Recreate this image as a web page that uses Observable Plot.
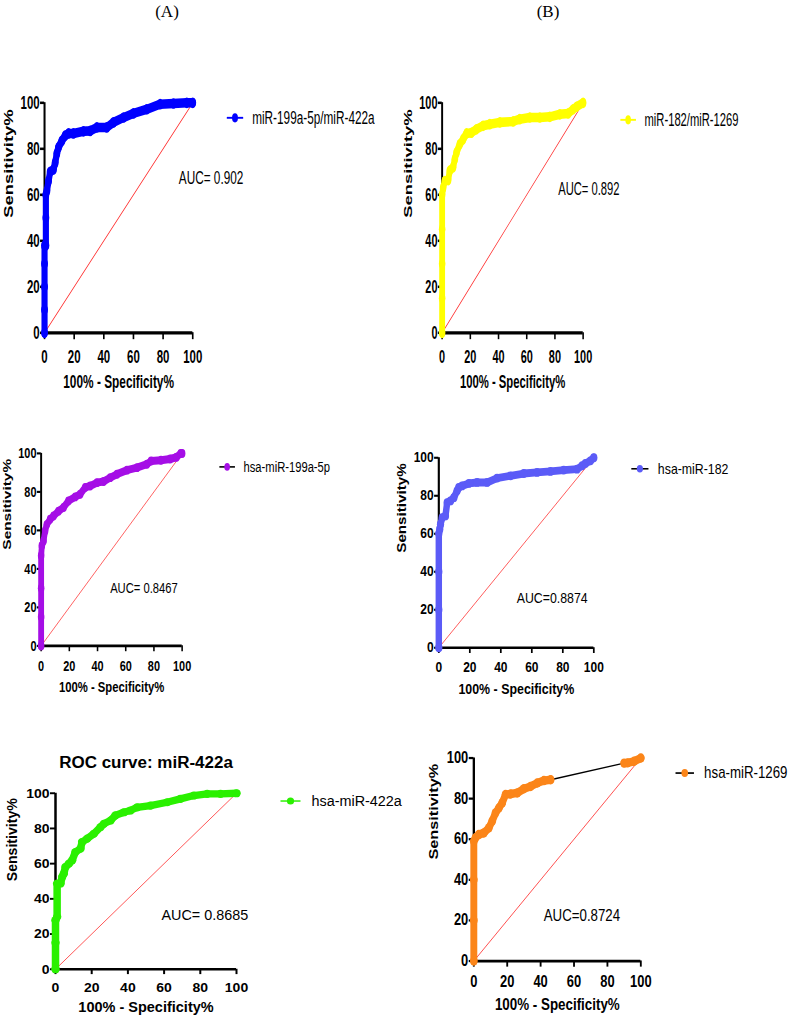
<!DOCTYPE html>
<html>
<head>
<meta charset="utf-8">
<script src="https://cdn.jsdelivr.net/npm/d3@7"></script>
<script src="https://cdn.jsdelivr.net/npm/@observablehq/plot@0.6"></script>
<style>
  html, body { margin: 0; padding: 0; background: #fff; }
  body { width: 789px; height: 1018px; position: relative; overflow: hidden; }
  .panel { position: absolute; transform-origin: 0 0; }
  .panel svg { display: block; overflow: visible; max-width: none !important; }
  .hdr { position: absolute; font-family: "Liberation Serif", "Times New Roman", serif; font-size: 17px; transform: translate(-50%, -50%); color: #000; }
</style>
</head>
<body>
<div class="hdr" style="left:167px; top:12px;">(A)</div>
<div class="hdr" style="left:548px; top:12px;">(B)</div>
<script>
// ---- data ----
const xTicks = [0, 20, 40, 60, 80, 100];
const yTicks = [0, 20, 40, 60, 80, 100];
const diag = [0, 100];
const xTitle = "100% - Specificity%";
const yTitle = "Sensitivity%";

// miR-199a-5p/miR-422a
const a1Fpr = [0, 0, 0, 0, 0, 0.9, 0.9, 0.9, 1.6, 2.7, 3.8, 6, 7.2, 8.3, 9.4, 11.7, 13.9, 16.2, 19.5, 26.3, 30.8, 35.3, 42, 46.5, 53.3, 60, 69, 78, 87, 96, 100];
const a1Tpr = [0, 10, 20, 30, 38, 38, 50, 60, 61.8, 66, 70, 71, 74, 78, 80.6, 83.5, 85.7, 86.7, 86.7, 87.6, 87.8, 89.3, 89.3, 91.5, 93.6, 95.4, 97.2, 99.4, 99.7, 100, 100];

// miR-182/miR-1269
const b1Fpr = [0, 0, 0, 0, 0, 0.7, 1.9, 4.3, 5.4, 7.8, 9, 10.2, 12.5, 14.9, 17.3, 20.8, 24.3, 29, 33.8, 40.9, 50.4, 55, 62.2, 69.3, 76.4, 83.5, 89.4, 92.9, 95.3, 100];
const b1Tpr = [0, 15, 30, 45, 60, 63, 66, 66.4, 70.5, 72, 75.5, 78.4, 82, 84.2, 86.7, 87, 88.5, 90, 90.7, 91.5, 91.9, 92.9, 93.6, 93.6, 93.9, 95, 95.4, 97.2, 98.3, 100];

// hsa-miR-199a-5p
const a2Fpr = [0, 0, 0, 0, 0.5, 1.7, 2.8, 4, 6.4, 8.8, 12.3, 15.9, 19.4, 24.2, 27.7, 31.3, 34.8, 39.6, 44.3, 49, 53.8, 60.9, 68, 75, 78, 85, 91.5, 96, 99, 100];
const a2Tpr = [0, 15, 30, 46.8, 52, 54.5, 59.7, 63, 65.8, 67.5, 70, 71.9, 75.3, 77.4, 78.8, 82.3, 83.1, 84.8, 85.4, 87.4, 89.2, 91.3, 92.6, 94.4, 96, 96.4, 97.1, 98, 100, 100];

// hsa-miR-182
const b2Fpr = [0, 0, 0, 0, 0.6, 1.1, 2.2, 4.3, 5.4, 7.5, 9.7, 11.8, 12.9, 15, 19.4, 24.7, 31.2, 37.6, 46.2, 54.8, 63.4, 72, 80.6, 89.2, 92.5, 94.6, 97.8, 100];
const b2Tpr = [0, 20, 40, 60.1, 62.4, 65, 68.5, 69.4, 76.4, 77.3, 79, 82.6, 84.4, 85.2, 86.5, 87, 87, 89.3, 90.5, 91.7, 92.3, 92.8, 93.5, 94, 95.8, 97, 98.4, 100];

// hsa-miR-422a
const a3Fpr = [0, 0, 0, 0.9, 0.9, 2.8, 3.7, 4.6, 5.5, 7.4, 9.2, 11, 13.8, 14.7, 17.5, 21.2, 24.9, 26.7, 30.4, 33.1, 37.8, 41.4, 45.1, 52.5, 61.7, 69, 76.4, 83.8, 91.2, 100];
const a3Tpr = [0, 15, 27.9, 29.8, 48.7, 48.7, 52.5, 54.3, 58.1, 60, 61.9, 66.6, 68.5, 72.3, 74.2, 77, 80.8, 82.6, 84.5, 87.4, 89.2, 90.2, 92, 93, 94.9, 96.8, 98.7, 99.6, 99.6, 100];

// hsa-miR-1269 (gap between 46 and 90)
const b3Fpr = [0, 0, 0, 0, 1, 3, 6, 9, 11, 13, 15, 17, 19, 22, 26, 30, 34, 38, 42, 46, 90, 92, 96, 100];
const b3Tpr = [0, 20, 40, 59, 60.7, 62.3, 63.1, 65.6, 68.9, 73, 75.4, 77.9, 82, 82.3, 82.8, 84.9, 86, 87.7, 88.9, 89.3, 97.5, 97.6, 98.4, 100];
const b3Run = [0, 0, 0, 0, 0, 0, 0, 0, 0, 0, 0, 0, 0, 0, 0, 0, 0, 0, 0, 0, 1, 1, 1, 1];

const labels = ["miR-199a-5p/miR-422a", "miR-182/miR-1269", "hsa-miR-199a-5p", "hsa-miR-182", "hsa-miR-422a", "hsa-miR-1269"];
const aucs = ["AUC= 0.902", "AUC= 0.892", "AUC= 0.8467", "AUC=0.8874", "AUC= 0.8685", "AUC=0.8724"];
const colors = ["#0000ff", "#ffff00", "#a50ee6", "#5b5bf7", "#2af000", "#fb8519"];
const linkColors = ["#0000ff", "#ffff00", "#000000", "#000000", "#2af000", "#000000"];

// ---- layout (frame in page px, offsets in base units) ----
const ML = 60, MT = 45, MR = 225, MB = 55, F = 181;
const panels = [
  {fpr: a1Fpr, tpr: a1Tpr, x0: 44.5, x1: 192.7, yTop: 102, yBot: 332, auc: [164, 59], leg: [232.6, 11.8]},
  {fpr: b1Fpr, tpr: b1Tpr, x0: 442, x1: 583, yTop: 102, yBot: 332, auc: [149, 67.7], leg: [238.8, 13.4]},
  {fpr: a2Fpr, tpr: a2Tpr, x0: 41, x1: 182, yTop: 452.5, yBot: 645, auc: [88.6, 126.5], leg: [238.8, 12.7]},
  {fpr: b2Fpr, tpr: b2Tpr, x0: 438, x1: 593, yTop: 457, yBot: 647, auc: [91, 133.4], leg: [234.8, 10.5]},
  {fpr: a3Fpr, tpr: a3Tpr, x0: 55, x1: 236, yTop: 793, yBot: 969, auc: [106, 125.5], leg: [235, 8], title: "ROC curve: miR-422a"},
  {fpr: b3Fpr, tpr: b3Tpr, run: b3Run, x0: 473, x1: 640, yTop: 757, yBot: 960, auc: [75.8, 140.9], leg: [228.6, 13.4]}
];

const legendLine = {draw(ctx) { ctx.moveTo(-10, 0); ctx.lineTo(10, 0); }};

panels.forEach((p, i) => {
  const data = p.fpr.map((f, j) => ({fpr: f, tpr: p.tpr[j], run: p.run ? p.run[j] : 0}));
  const kx = (p.x1 - p.x0) / F, ky = (p.yBot - p.yTop) / F;
  const marks = [
    Plot.line(diag, {x: d => d, y: d => d, stroke: "#ff2a2a", strokeWidth: 0.8}),
    Plot.axisX({ticks: xTicks, tickSize: 5.5, tickPadding: 8, fontWeight: "bold", fontSize: 14, strokeWidth: 2, label: null}),
    Plot.axisY({ticks: yTicks, tickSize: 5, tickPadding: 1, fontWeight: "bold", fontSize: 14, strokeWidth: 2, label: null}),
    Plot.ruleX([0], {strokeWidth: 2.5}),
    Plot.ruleY([0], {strokeWidth: 2.5}),
    Plot.text([xTitle], {frameAnchor: "bottom", dy: 39, lineAnchor: "middle", fontWeight: "bold", fontSize: 14.5}),
    Plot.text([yTitle], {frameAnchor: "left", dx: -43, rotate: -90, lineAnchor: "middle", fontWeight: "bold", fontSize: 14.5}),
    Plot.line(data, {x: "fpr", y: "tpr", stroke: linkColors[i], strokeWidth: 1.3}),
    Plot.line(data, {x: "fpr", y: "tpr", z: "run", stroke: colors[i], strokeWidth: 7.5, strokeLinejoin: "round", strokeLinecap: "round"}),
    Plot.dot(data, {x: "fpr", y: "tpr", r: 4.2, fill: colors[i]}),
    Plot.text([aucs[i]], {frameAnchor: "top-left", dx: p.auc[0], dy: p.auc[1], textAnchor: "start", lineAnchor: "middle", fontSize: 14.4}),
    Plot.dot([labels[i]], {frameAnchor: "top-left", dx: p.leg[0], dy: p.leg[1], symbol: legendLine, r: 4, stroke: linkColors[i], strokeWidth: 1.5, fill: "none"}),
    Plot.dot([labels[i]], {frameAnchor: "top-left", dx: p.leg[0], dy: p.leg[1], r: 3.6, fill: colors[i]}),
    Plot.text([labels[i]], {frameAnchor: "top-left", dx: p.leg[0] + 21, dy: p.leg[1], textAnchor: "start", lineAnchor: "middle", fontSize: 14.4})
  ];
  if (p.title) {
    marks.push(Plot.text([p.title], {frameAnchor: "top", dy: -31, lineAnchor: "middle", fontWeight: "bold", fontSize: 17}));
  }
  const W = ML + F + MR, H = MT + F + MB;
  const svg = Plot.plot({
    width: W,
    height: H,
    marginLeft: ML, marginRight: MR, marginTop: MT, marginBottom: MB,
    x: {domain: [0, 100]},
    y: {domain: [0, 100]},
    style: {fontFamily: "'Liberation Sans', Arial, sans-serif", fontSize: "14px", color: "#000", background: "transparent", overflow: "visible"},
    marks
  });
  svg.style.width = W + "px";
  svg.style.height = H + "px";
  const div = document.createElement("div");
  div.className = "panel";
  div.style.width = W + "px";
  div.style.height = H + "px";
  div.style.left = (p.x0 - ML * kx) + "px";
  div.style.top = (p.yTop - MT * ky) + "px";
  div.style.transform = `scale(${kx}, ${ky})`;
  div.appendChild(svg);
  document.body.appendChild(div);
});
</script>
</body>
</html>
